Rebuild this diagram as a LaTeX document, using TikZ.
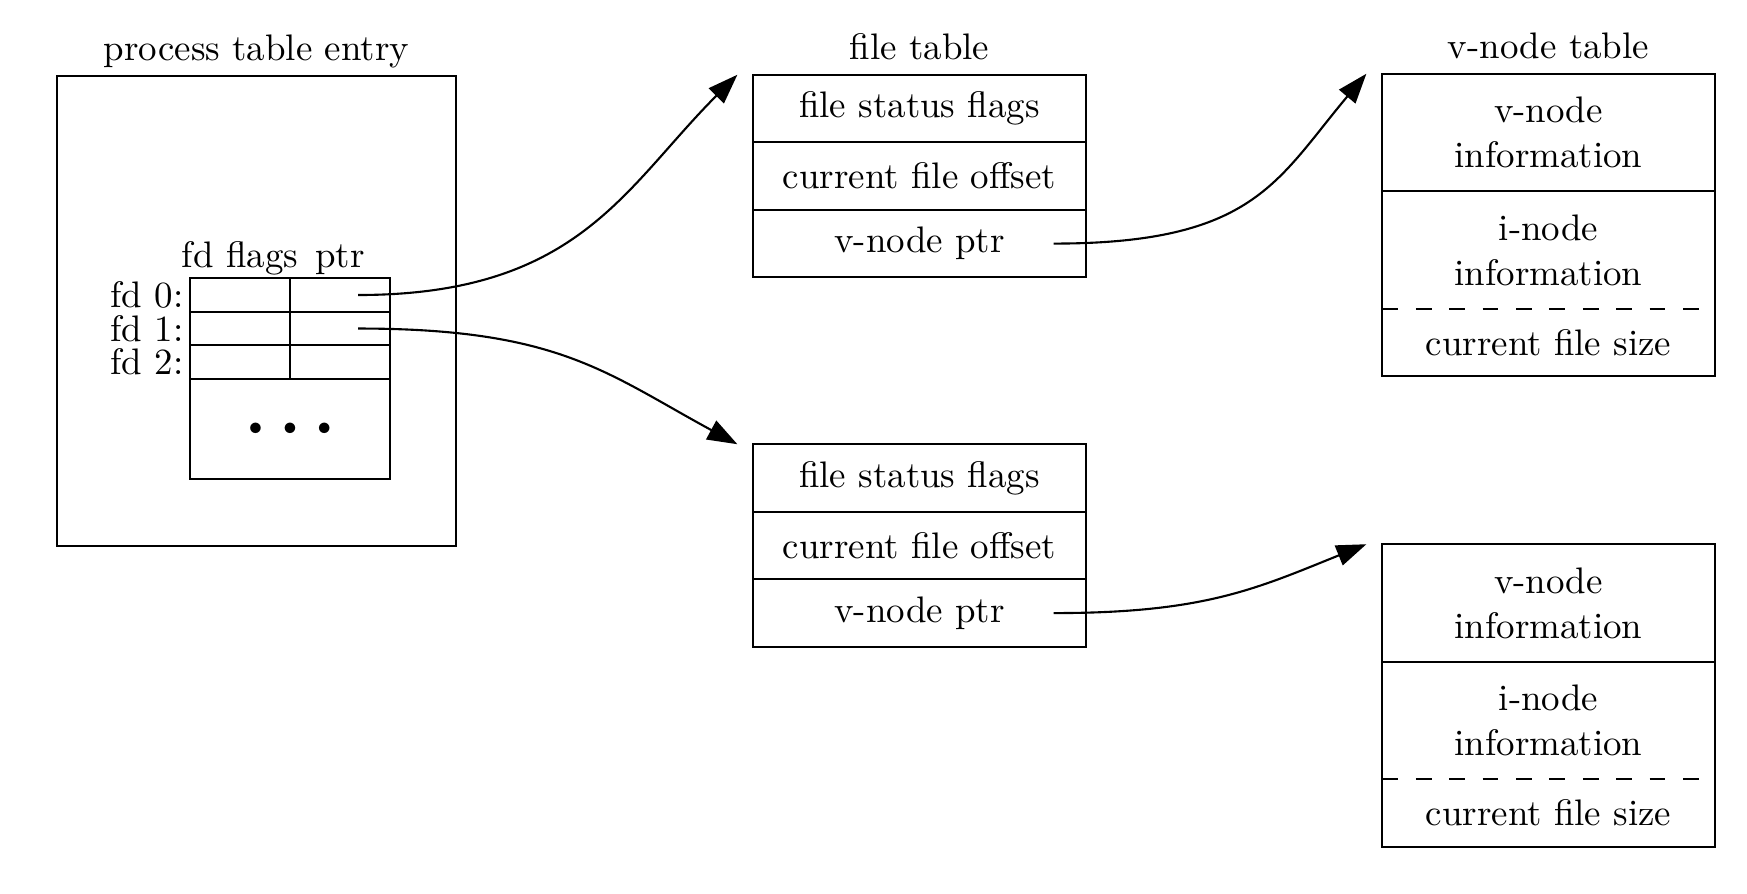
\documentclass[tikz,border=0pt]{standalone}
\usetikzlibrary{positioning,arrows.meta}

\begin{document}
\begin{tikzpicture}[x=0.01cm,y=0.01cm,line width=0.6pt,>={Triangle[length=8.5pt,width=6pt]},font=\fontsize{10.5}{12.8}\selectfont,
		cell/.style={draw,minimum width=3.32cm,minimum height=0.675cm,inner sep=0pt,outer sep=0pt},
		infocell/.style={cell,minimum height=1.175cm,align=center},
		fdcell/.style={draw,minimum width=1cm,minimum height=0.335cm,inner sep=0pt,outer sep=0pt},
		lbl/.style={inner sep=1pt},
		ttl/.style={anchor=base,inner sep=1pt},
		sizeline/.style={dash pattern=on 4.5pt off 5pt}]
	\useasboundingbox (0,0) rectangle (1747,-893);
	% process table entry
	\node[draw,minimum width=3.99cm,minimum height=4.70cm,outer sep=0pt] (proc) at (256.5,-311) {};
	\node[ttl] (proctitle) at ([yshift=0.15cm]proc.north) {process table entry};
	\node[fdcell] (fd0fl) at (240,-295) {};
	\node[fdcell,right=0pt of fd0fl] (fd0p) {};
	\foreach \row/\prev in {1/0,2/1}{
		\node[fdcell,below=0pt of fd\prev fl] (fd\row fl) {};
		\node[fdcell,right=0pt of fd\row fl] (fd\row p) {};
	}
	\node[draw,minimum width=2cm,minimum height=1cm,inner sep=0pt,outer sep=0pt,below=0pt of fd2fl.south east] (fdmore) {\raisebox{-0.05cm}{\scriptsize$\bullet$\hspace{0.2cm}$\bullet$\hspace{0.2cm}$\bullet$}};
	\node[lbl,above=-0.01cm of fd0fl] (hflags) {fd flags};
	\node[lbl,above=-0.01cm of fd0p] (hptr) {ptr};
	\node[lbl,left=0.02cm of fd0fl] (l0) {fd 0:};
	\node[lbl,left=0.02cm of fd1fl] (l1) {fd 1:};
	\node[lbl,left=0.02cm of fd2fl] (l2) {fd 2:};
	% file table
	\node[cell] (f1flags) at (919.5,-108.5) {file status flags};
	\node[cell,below=0pt of f1flags] (f1off) {current file offset};
	\node[cell,below=0pt of f1off] (f1vp) {v-node ptr};
	\node[ttl] (ftitle) at ([yshift=0.15cm]f1flags.north) {file table};
	\node[cell] (f2flags) at (919.5,-478) {file status flags};
	\node[cell,below=0pt of f2flags] (f2off) {current file offset};
	\node[cell,below=0pt of f2off] (f2vp) {v-node ptr};
	% v-node table
	\node[infocell] (v1info) at (1548.5,-132.5) {v-node\\information};
	\node[infocell,draw=none,below=0pt of v1info] (v1inode) {i-node\\information};
	\node[cell,draw=none,below=0pt of v1inode] (v1size) {current file size};
	\draw (v1inode.north west) rectangle (v1size.south east);
	\draw[sizeline] (v1size.north west) -- (v1size.north east);
	\node[ttl] (vtitle) at ([yshift=0.15cm]v1info.north) {v-node table};
	\node[infocell] (v2info) at (1548.5,-603) {v-node\\information};
	\node[infocell,draw=none,below=0pt of v2info] (v2inode) {i-node\\information};
	\node[cell,draw=none,below=0pt of v2inode] (v2size) {current file size};
	\draw (v2inode.north west) rectangle (v2size.south east);
	\draw[sizeline] (v2size.north west) -- (v2size.north east);
	% pointers
	\draw[->] ([xshift=-0.32cm]fd0p.east) to[out=0,in=225,out distance=2.2cm,in distance=1.6cm] ([xshift=-0.16cm]f1flags.north west);
	\draw[->] ([xshift=-0.32cm]fd1p.east) to[out=0,in=151.5,out distance=2cm,in distance=1.5cm] ([xshift=-0.16cm]f2flags.north west);
	\draw[->] ([xshift=-0.32cm]f1vp.east) to[out=0,in=230,out distance=2cm,in distance=1.4cm] ([xshift=-0.16cm]v1info.north west);
	\draw[->] ([xshift=-0.32cm]f2vp.east) to[out=0,in=202,out distance=1.5cm,in distance=1.2cm] ([xshift=-0.16cm]v2info.north west);
\end{tikzpicture}
\end{document}
